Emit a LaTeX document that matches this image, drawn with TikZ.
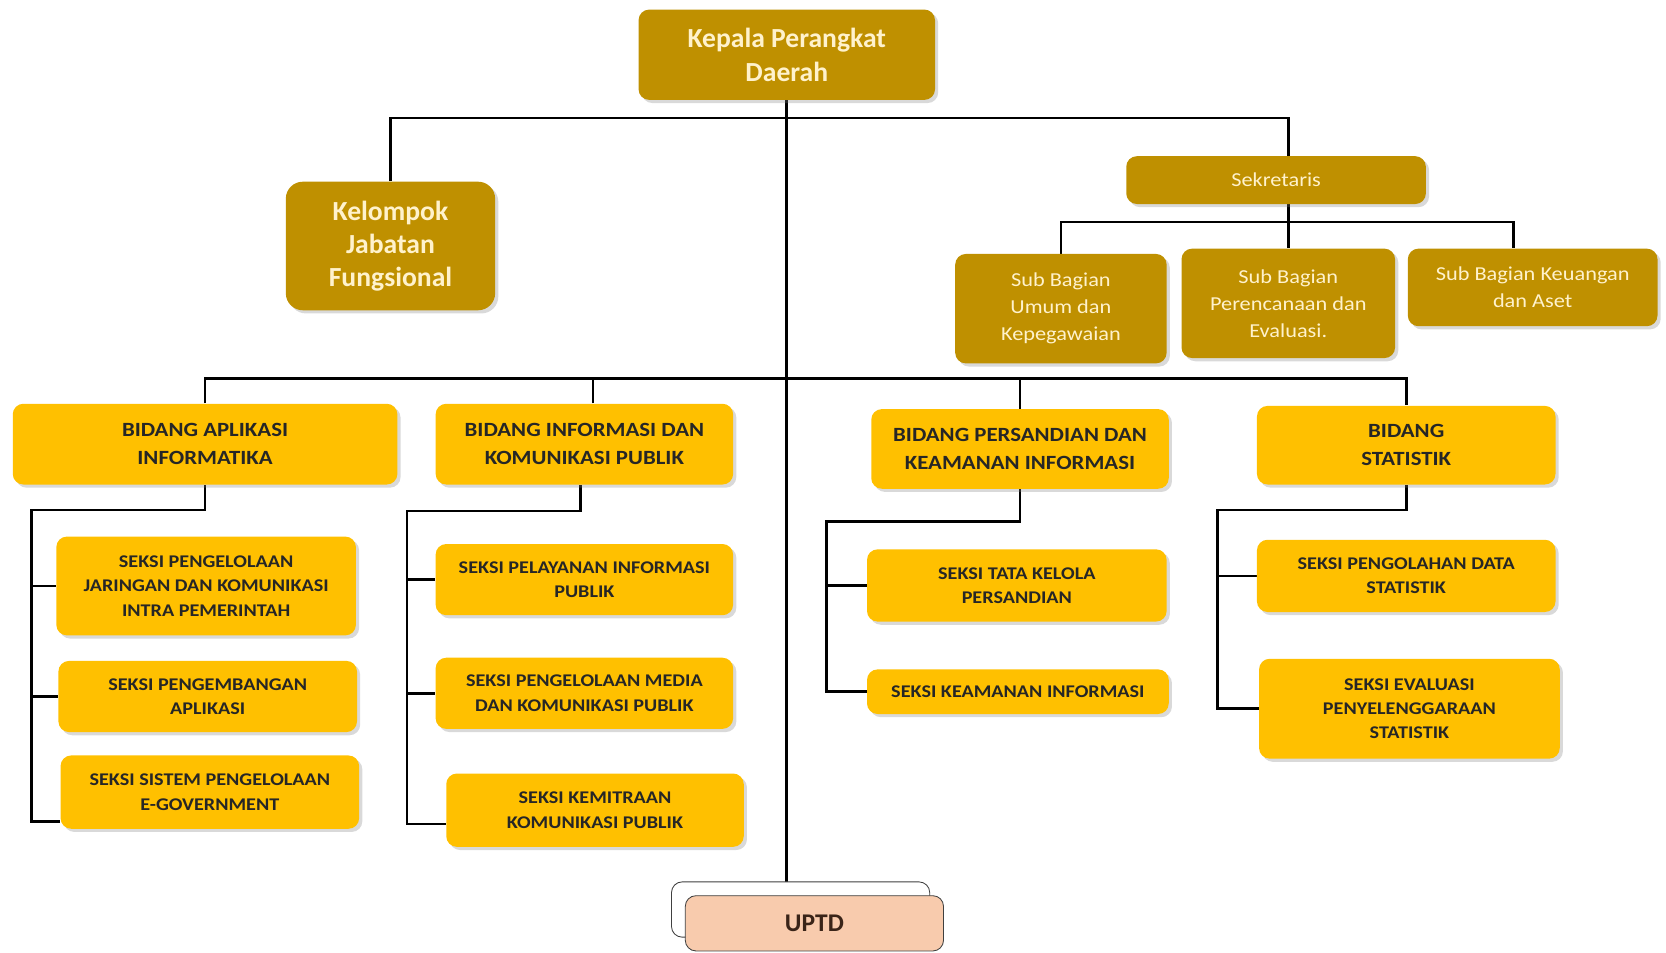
\documentclass[tikz,border=0pt]{standalone}
\usepackage{fontspec}
\setmainfont{Carlito}
\newfontfamily\lebar{Carlito}[FakeStretch=1.13]
\usetikzlibrary{shadows,backgrounds}
\definecolor{darkgold}{HTML}{BF9000}
\definecolor{lightcream}{HTML}{FFF2CC}
\definecolor{gold}{HTML}{FFC000}
\definecolor{peach}{HTML}{F8CBAD}
\definecolor{uptdtext}{HTML}{3A2418}
\begin{document}
\begin{tikzpicture}[x=0.5pt,y=-0.5pt,
    unit/.style={rounded corners=5pt, inner sep=1pt, align=center,
      drop shadow={shadow xshift=1.5pt, shadow yshift=-1.5pt, opacity=0.3}},
    atas/.style={unit, fill=darkgold, text=lightcream},
    subbag/.style={atas, font=\lebar\fontsize{9.3}{12.75}\selectfont},
    bidang/.style={unit, fill=gold, text=black!85, font=\lebar\bfseries\fontsize{9.5}{13}\selectfont},
    seksi/.style={unit, fill=gold, text=black!85, font=\lebar\bfseries\fontsize{8.4}{11.5}\selectfont},
    wh/.style 2 args={minimum width=#1pt, minimum height=#2pt},
    garis/.style={line width=1.3pt, black}]
                      \useasboundingbox (0,0) rectangle (1568,896);
                      \node [atas, wh={139.5}{42.5}, font=\bfseries\fontsize{13}{16}\selectfont] (kepala) at (740.5,51.5) {Kepala Perangkat\\Daerah};
                      \node [atas, wh={98.5}{60.5}, rounded corners=8pt, font=\bfseries\fontsize{13}{15.5}\selectfont] (kjf) at (367.5,231.5) {Kelompok\\Jabatan\\Fungsional};
                      \node [atas, wh={141}{22.5}, font=\lebar\fontsize{9.3}{11}\selectfont] (sekr) at (1201,169.5) {Sekretaris};
                      \node [subbag, wh={99.5}{51.5}] (sbumum) at (998.5,290.5) {Sub Bagian\\Umum dan\\Kepegawaian};
                      \node [subbag, wh={100.5}{51.5}] (sbrenc) at (1212.5,285.5) {Sub Bagian\\Perencanaan dan\\Evaluasi.};
                      \node [subbag, wh={117.5}{36.5}] (sbkeu) at (1442.5,270.5) {Sub Bagian Keuangan\\dan Aset};
                      \node [bidang, wh={181}{38}] (bidapl) at (193,418) {BIDANG APLIKASI\\INFORMATIKA};
                      \node [bidang, wh={140}{38}] (bidikp) at (550,418) {BIDANG INFORMASI DAN\\KOMUNIKASI PUBLIK};
                      \node [bidang, wh={140}{37.5}] (bidpki) at (960,422.5) {BIDANG PERSANDIAN DAN\\KEAMANAN INFORMASI};
                      \node [bidang, wh={140.5}{37}] (bidstat) at (1323.5,419) {BIDANG\\STATISTIK};
                      \node [seksi, wh={141}{46.5}] (sjar) at (194,551.5) {SEKSI PENGELOLAAN\\JARINGAN DAN KOMUNIKASI\\INTRA PEMERINTAH};
                      \node [seksi, wh={140.5}{33.5}] (sapl) at (195.5,655.5) {SEKSI PENGEMBANGAN\\APLIKASI};
                      \node [seksi, wh={140.5}{34.5}] (segov) at (197.5,745.5) {SEKSI SISTEM PENGELOLAAN\\E-GOVERNMENT};
                      \node [seksi, wh={140}{33.5}] (slay) at (550,545.5) {SEKSI PELAYANAN INFORMASI\\PUBLIK};
                      \node [seksi, wh={140}{33.5}] (smed) at (550,652.5) {SEKSI PENGELOLAAN MEDIA\\DAN KOMUNIKASI PUBLIK};
                      \node [seksi, wh={140}{34.5}] (smit) at (560,762.5) {SEKSI KEMITRAAN\\KOMUNIKASI PUBLIK};
                      \node [seksi, wh={141}{34}] (stata) at (957,551) {SEKSI TATA KELOLA\\PERSANDIAN};
                      \node [seksi, wh={142}{21}] (skeam) at (958,651) {SEKSI KEAMANAN INFORMASI};
                      \node [seksi, wh={140.5}{34}] (sdata) at (1323.5,542) {SEKSI PENGOLAHAN DATA\\STATISTIK};
                      \node [seksi, wh={141.5}{47}] (seval) at (1326.5,667) {SEKSI EVALUASI\\PENYELENGGARAAN\\STATISTIK};
                      \node [draw=black!75, fill=white, rounded corners=5pt, wh={121.5}{26}] (uptdb) at (753.5,856) {};
                      \node [draw=black!75, fill=peach, rounded corners=5pt, wh={121.5}{26}, text=uptdtext, font=\bfseries\fontsize{12}{14}\selectfont] (uptd) at (766.5,869) {UPTD};
                      \begin{scope}[on background layer]
                      \coordinate (bus1) at (0,111);
                      \coordinate (bus2) at (0,209);
                      \coordinate (bus3) at (0,356);
                      \coordinate (sp1) at (30,480);
                      \coordinate (sp2) at (383,481);
                      \coordinate (sp3) at (778,491);
                      \coordinate (sp4) at (1146,480);
                      \draw [garis] (kepala.south) -- (kepala.south |- uptd.north);
                      \draw [garis] (kjf.north) -- (kjf.north |- bus1) -- (sbrenc.north |- bus1) -- (sbrenc.north |- sekr.north);
                      \draw [garis] (sbrenc.north |- sekr.south) -- (sbrenc.north);
                      \draw [garis] (sbumum.north) -- (sbumum.north |- bus2) -- ([xshift=-9pt]sbkeu.north |- bus2) -- ([xshift=-9pt]sbkeu.north);
                      \draw [garis] (bidapl.north) -- (bidapl.north |- bus3) -- (bidstat.north |- bus3) -- (bidstat.north);
                      \draw [garis] ([xshift=4pt]bidikp.north) -- ([xshift=4pt]bidikp.north |- bus3);
                      \draw [garis] (bidpki.north) -- (bidpki.north |- bus3);
                      \draw [garis] (bidapl.south) |- (sp1) |- ([yshift=3.5pt]segov.south west);
                      \draw [garis] (sp1 |- sjar.west) -- (sjar.west);
                      \draw [garis] (sp1 |- sapl.west) -- (sapl.west);
                      \draw [garis] ([xshift=-2pt]bidikp.south) |- (sp2) |- ([yshift=11pt]smit.south west);
                      \draw [garis] (sp2 |- slay.west) -- (slay.west);
                      \draw [garis] (sp2 |- smed.west) -- (smed.west);
                      \draw [garis] (bidpki.south) |- (sp3) |- (skeam.west);
                      \draw [garis] (sp3 |- stata.west) -- (stata.west);
                      \draw [garis] (bidstat.south) |- (sp4) |- (seval.west);
                      \draw [garis] (sp4 |- sdata.west) -- (sdata.west);
                      \end{scope}
                  \end{tikzpicture}
\end{document}
